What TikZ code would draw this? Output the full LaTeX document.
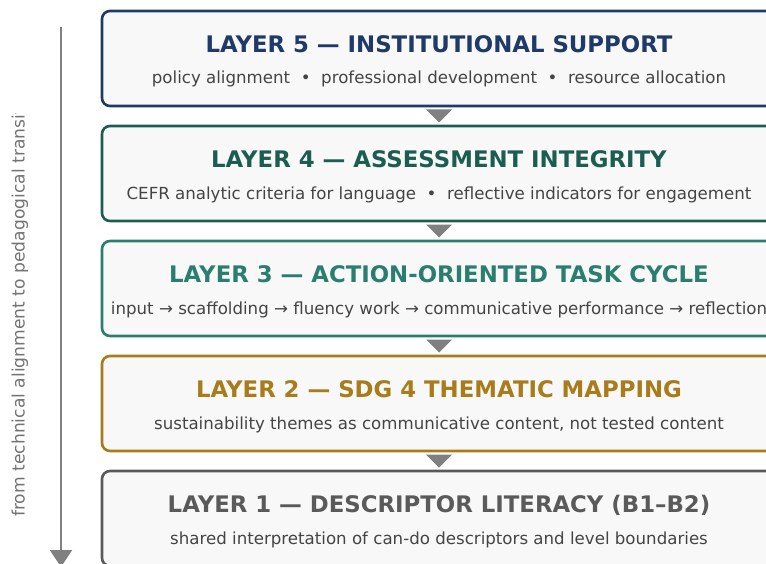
\documentclass[tikz,border=0pt]{standalone}
\usepackage{fontspec}
\setmainfont{DejaVu Sans}
\usetikzlibrary{positioning, calc, arrows.meta}

\definecolor{layerfive}{HTML}{1F3A68}
\definecolor{layerfour}{HTML}{1B5E50}
\definecolor{layerthree}{HTML}{2A7E6E}
\definecolor{layertwo}{HTML}{A87B1B}
\definecolor{layerone}{HTML}{5A5A5A}
\definecolor{boxfill}{HTML}{F8F8F8}
\definecolor{detailgray}{HTML}{444444}
\definecolor{arrowgray}{HTML}{808080}

\tikzset{
    layer/.style={rectangle, rounded corners=8bp, minimum width=674bp, minimum height=95bp, line width=2.6bp, outer sep=0pt, fill=boxfill},
    layertitle/.style={anchor=base, font=\bfseries\fontsize{22.9}{26}\selectfont},
    layerdetail/.style={anchor=base, text=detailgray, font=\fontsize{16.7}{19}\selectfont},
    steparrow/.style={fill=arrowgray},
    flow/.style={draw=arrowgray, line width=2.5bp, -{Triangle[length=17bp,width=22bp]}}
}

\begin{document}
\begin{tikzpicture}[x=1bp, y=1bp]

    \useasboundingbox (0,0) rectangle (766,-564);
    \clip (0,0) rectangle (766,-564);

    % Layers
    \node (l5) [layer, draw=layerfive] at (439,-58.5) {};
    \node (l4) [layer, draw=layerfour, below=20bp of l5] {};
    \node (l3) [layer, draw=layerthree, below=20bp of l4] {};
    \node (l2) [layer, draw=layertwo, below=20bp of l3] {};
    \node (l1) [layer, draw=layerone, below=20bp of l2] {};

    % Titles and details
    \node (l5title) [layertitle, text=layerfive] at ([yshift=-41.5bp]l5.north) {LAYER 5 — INSTITUTIONAL SUPPORT};
    \node (l5detail) [layerdetail] at ([yshift=-73bp]l5.north) {policy alignment \ • \ professional development \ • \ resource allocation};
    \node (l4title) [layertitle, text=layerfour] at ([yshift=-41.5bp]l4.north) {LAYER 4 — ASSESSMENT INTEGRITY};
    \node (l4detail) [layerdetail] at ([yshift=-73bp]l4.north) {CEFR analytic criteria for language \ • \ reflective indicators for engagement};
    \node (l3title) [layertitle, text=layerthree] at ([yshift=-41.5bp]l3.north) {LAYER 3 — ACTION-ORIENTED TASK CYCLE};
    \node (l3detail) [layerdetail] at ([yshift=-73bp]l3.north) {input → scaffolding → fluency work → communicative performance → reflection};
    \node (l2title) [layertitle, text=layertwo] at ([yshift=-41.5bp]l2.north) {LAYER 2 — SDG 4 THEMATIC MAPPING};
    \node (l2detail) [layerdetail] at ([yshift=-73bp]l2.north) {sustainability themes as communicative content, not tested content};
    \node (l1title) [layertitle, text=layerone] at ([yshift=-41.5bp]l1.north) {LAYER 1 — DESCRIPTOR LITERACY (B1–B2)};
    \node (l1detail) [layerdetail] at ([yshift=-73bp]l1.north) {shared interpretation of can-do descriptors and level boundaries};

    % Steps between layers
    \fill [steparrow] ([xshift=-13bp,yshift=-3.5bp]l5.south) -- ([xshift=13bp,yshift=-3.5bp]l5.south) -- ([yshift=3.5bp]l4.north) -- cycle;
    \fill [steparrow] ([xshift=-13bp,yshift=-3.5bp]l4.south) -- ([xshift=13bp,yshift=-3.5bp]l4.south) -- ([yshift=3.5bp]l3.north) -- cycle;
    \fill [steparrow] ([xshift=-13bp,yshift=-3.5bp]l3.south) -- ([xshift=13bp,yshift=-3.5bp]l3.south) -- ([yshift=3.5bp]l2.north) -- cycle;
    \fill [steparrow] ([xshift=-13bp,yshift=-3.5bp]l2.south) -- ([xshift=13bp,yshift=-3.5bp]l2.south) -- ([yshift=3.5bp]l1.north) -- cycle;

    % Side arrow
    \coordinate (flowtop) at (61,-27);
    \coordinate (flowbottom) at (61,-567);
    \draw [flow] (flowtop) -- (flowbottom);
    \begin{scope}
        \clip (0,-114) rectangle (45,-564);
        \node (flowlabel) [anchor=west, rotate=90, inner sep=0pt, text=arrowgray!90!black, font=\fontsize{17.2}{20}\selectfont] at (20,-517) {from technical alignment to pedagogical transition};
    \end{scope}

\end{tikzpicture}
\end{document}
